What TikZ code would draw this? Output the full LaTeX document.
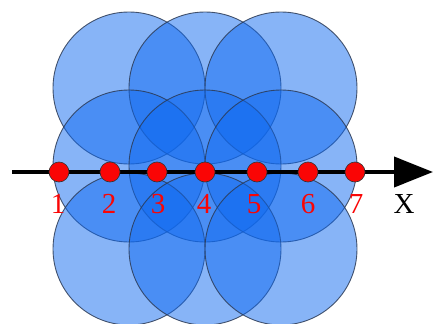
\documentclass[tikz,border=0pt]{standalone}
\usepackage{fontspec}
\setmainfont{Liberation Serif}
\usepackage{xcolor}
\usepackage{tikz}
\usetikzlibrary{arrows.meta}
\definecolor{disc}{RGB}{15,105,240}
\definecolor{rim}{HTML}{2B3A55}
\definecolor{dotred}{RGB}{250,5,5}

\begin{document}
\begin{tikzpicture}[
  x=1pt,y=-1pt,
  ball/.style={fill=disc,fill opacity=0.5,draw=rim,draw opacity=0.85,line width=0.9pt},
  dot/.style={circle,fill=dotred,draw=black!80,line width=0.6pt,inner sep=0pt,minimum size=20pt},
  num/.style={text=dotred,font=\fontsize{29}{31}\selectfont,inner sep=0pt},
  axis/.style={-{Triangle[length=39pt,width=30pt]},line width=4pt,draw=black}
]
\useasboundingbox (0,0) rectangle (434,324);
% nine overlapping discs
\foreach \cy in {88,166,249}
  \foreach \cx in {129,205,281}
    \draw[ball] (\cx,\cy) circle (76);
% axis
\coordinate (start) at (12,172);
\coordinate (end) at (433,172);
\draw[axis] (start) -- (end);
% points and their numbers
\foreach \i/\x/\lx in {1/59/58,2/110/109,3/157/158,4/205/204,5/257/254,6/308/308,7/355/356} {
  \node[dot] (d\i) at (\x,172) {};
  \node[num] (n\i) at (\lx,204) {\i};
}
\node[num,text=black] (xlabel) at (404,204) {X};
\end{tikzpicture}
\end{document}
